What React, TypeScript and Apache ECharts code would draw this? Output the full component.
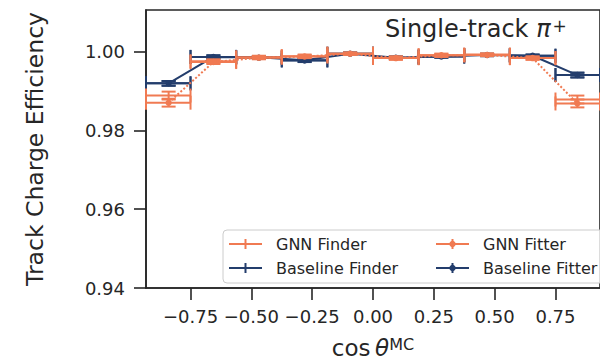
import React, { useEffect, useRef } from "react";
import * as echarts from "echarts";

// ---- data ----
const xCenters = [-0.84, -0.656, -0.469, -0.281, -0.094, 0.094, 0.281, 0.469, 0.656, 0.84];
const binLow = [-0.933, -0.75, -0.5625, -0.375, -0.1875, 0, 0.1875, 0.375, 0.5625, 0.75];
const binHigh = [-0.75, -0.5625, -0.375, -0.1875, 0, 0.1875, 0.375, 0.5625, 0.75, 0.933];

const gnnFinder = [0.9888, 0.9975, 0.9985, 0.9988, 0.9994, 0.9983, 0.999, 0.9992, 0.9983, 0.9878];
const gnnFinderErr = [0.001, 0.0005, 0.0004, 0.0004, 0.0003, 0.0004, 0.0004, 0.0003, 0.0004, 0.001];
const gnnFitter = [0.987, 0.9973, 0.9984, 0.9987, 0.9994, 0.9983, 0.999, 0.9991, 0.9983, 0.9868];
const gnnFitterErr = [0.001, 0.0005, 0.0004, 0.0004, 0.0003, 0.0004, 0.0004, 0.0003, 0.0004, 0.001];
const baseFinder = [0.9919, 0.9986, 0.9985, 0.99775, 0.9994, 0.9984, 0.9987, 0.9991, 0.9989, 0.994];
const baseFinderErr = [0.0006, 0.0004, 0.0003, 0.0004, 0.0003, 0.0003, 0.0003, 0.0003, 0.0003, 0.0006];
const baseFitter = [0.9919, 0.9986, 0.9984, 0.9977, 0.9994, 0.9984, 0.9987, 0.9991, 0.9989, 0.994];
const baseFitterErr = [0.0006, 0.0004, 0.0003, 0.0004, 0.0003, 0.0003, 0.0003, 0.0003, 0.0003, 0.0006];

const xTicks = [-0.75, -0.5, -0.25, 0, 0.25, 0.5, 0.75];
const yTicks = [0.94, 0.96, 0.98, 1.0];

const legendNames = ["GNN Finder", "GNN Fitter", "Baseline Finder", "Baseline Fitter"];

const ORANGE = "#F07A52";
const NAVY = "#233D6C";
const INK = "#262626";
const FONT = "DejaVu Sans";

function errSeries(name: string, values: number[], errs: number[], color: string, marker: boolean, z: number) {
  return {
    type: "custom",
    name,
    z,
    data: xCenters.map((x, i) => [x, values[i], binLow[i], binHigh[i], errs[i]]),
    encode: { x: [0, 2, 3], y: [1] },
    renderItem: (_params: any, api: any) => {
      const xc = api.value(0);
      const y = api.value(1);
      const xl = api.value(2);
      const xh = api.value(3);
      const e = api.value(4);
      const p = api.coord([xc, y]);
      const pl = api.coord([xl, y]);
      const ph = api.coord([xh, y]);
      const pt = api.coord([xc, y + e]);
      const pb = api.coord([xc, y - e]);
      const cap = 7;
      const st = { stroke: color, lineWidth: 2, fill: null };
      const children: any[] = [
        { type: "line", shape: { x1: pl[0], y1: p[1], x2: ph[0], y2: p[1] }, style: st },
        { type: "line", shape: { x1: pl[0], y1: p[1] - cap, x2: pl[0], y2: p[1] + cap }, style: st },
        { type: "line", shape: { x1: ph[0], y1: p[1] - cap, x2: ph[0], y2: p[1] + cap }, style: st },
        { type: "line", shape: { x1: p[0], y1: pt[1], x2: p[0], y2: pb[1] }, style: st },
        { type: "line", shape: { x1: p[0] - cap, y1: pt[1], x2: p[0] + cap, y2: pt[1] }, style: st },
        { type: "line", shape: { x1: p[0] - cap, y1: pb[1], x2: p[0] + cap, y2: pb[1] }, style: st },
      ];
      if (marker) {
        children.push({ type: "circle", shape: { cx: p[0], cy: p[1], r: 3.2 }, style: { fill: color } });
      }
      return { type: "group", children };
    },
  };
}

function lineSeries(name: string, values: number[], color: string, dash: any, z: number) {
  return {
    type: "line",
    name: name + " line",
    z,
    data: xCenters.map((x, i) => [x, values[i]]),
    symbol: "none",
    lineStyle: { color, width: 2, type: dash },
  };
}

function legendItem(x: number, y: number, color: string, marker: boolean, label: string) {
  const children: any[] = [
    { type: "line", shape: { x1: x, y1: y, x2: x + 33, y2: y }, style: { stroke: color, lineWidth: 2 } },
    { type: "line", shape: { x1: x + 16.5, y1: y - 5, x2: x + 16.5, y2: y + 5 }, style: { stroke: color, lineWidth: 2 } },
  ];
  if (marker) children.push({ type: "circle", shape: { cx: x + 16.5, cy: y, r: 3.2 }, style: { fill: color } });
  children.push({
    type: "text",
    x: x + 47,
    y,
    style: { text: label, fontSize: 16, fontFamily: FONT, fill: INK, verticalAlign: "middle", align: "left" },
  });
  return { type: "group", children };
}

export default function App() {
  const ref = useRef<HTMLDivElement>(null);
  useEffect(() => {
    if (!ref.current) return;
    const chart = echarts.init(ref.current, undefined, { renderer: "svg" });
    const fmt = (v: number) => v.toFixed(2).replace("-", "\u2212");
    chart.setOption({
      animation: false,
      backgroundColor: "#fff",
      grid: { left: 146, top: 10, right: -16, bottom: 72, show: true, borderColor: INK, borderWidth: 1.6, backgroundColor: "transparent" },
      xAxis: {
        type: "value",
        min: -0.933,
        max: 0.933,
        axisLine: { show: true, onZero: false, lineStyle: { color: INK, width: 1.6 } },
        axisTick: { show: true, length: 12, customValues: xTicks, lineStyle: { color: INK, width: 1.6 } },
        axisLabel: { customValues: xTicks, formatter: fmt, fontSize: 18, fontFamily: FONT, color: INK, margin: 19 },
        splitLine: { show: false },
        name: "{a|cos\u2009}{b|\u03b8}{c|MC}",
        nameLocation: "middle",
        nameGap: 48,
        nameTextStyle: {
          rich: {
            a: { fontSize: 23, fontFamily: FONT, color: INK },
            b: { fontSize: 23, fontFamily: FONT, color: INK, fontStyle: "italic" },
            c: { fontSize: 16, fontFamily: FONT, color: INK, verticalAlign: "top", padding: [0, 0, 6, 0] },
          },
        },
      },
      yAxis: {
        type: "value",
        min: 0.94,
        max: 1.0105,
        axisLine: { show: true, onZero: false, lineStyle: { color: INK, width: 1.6 } },
        axisTick: { show: true, length: 12, customValues: yTicks, lineStyle: { color: INK, width: 1.6 } },
        axisLabel: { customValues: yTicks, formatter: fmt, fontSize: 18, fontFamily: FONT, color: INK, margin: 21 },
        splitLine: { show: false },
        name: "Track Charge Efficiency",
        nameLocation: "middle",
        nameGap: 99,
        nameTextStyle: { fontSize: 23.5, fontFamily: FONT, color: INK },
      },
      series: [
        errSeries("Baseline Finder", baseFinder, baseFinderErr, NAVY, false, 2),
        errSeries("Baseline Fitter", baseFitter, baseFitterErr, NAVY, true, 2),
        lineSeries("Baseline Finder", baseFinder, NAVY, "solid", 3),
        errSeries("GNN Finder", gnnFinder, gnnFinderErr, ORANGE, false, 4),
        errSeries("GNN Fitter", gnnFitter, gnnFitterErr, ORANGE, true, 4),
        lineSeries("GNN Fitter", gnnFitter, ORANGE, [2, 2], 5),
      ],
      graphic: [
        {
          type: "text",
          x: 385,
          y: 17,
          style: {
            text: "{a|Single-track }{b|\u03c0}{c|+}",
            rich: {
              a: { fontSize: 24, fontFamily: FONT, fill: INK },
              b: { fontSize: 24, fontFamily: FONT, fill: INK, fontStyle: "italic" },
              c: { fontSize: 17, fontFamily: FONT, fill: INK, verticalAlign: "top", padding: [0, 0, 7, 2] },
            },
          },
          z: 10,
        },
        {
          type: "group",
          z: 10,
          children: [
            { type: "rect", shape: { x: 223, y: 230, width: 420, height: 53, r: 4 }, style: { fill: "rgba(255,255,255,0.8)", stroke: "#cccccc", lineWidth: 1 } },
            legendItem(229, 244, ORANGE, false, legendNames[0]),
            legendItem(436, 244, ORANGE, true, legendNames[1]),
            legendItem(229, 268, NAVY, false, legendNames[2]),
            legendItem(436, 268, NAVY, true, legendNames[3]),
          ],
        },
      ],
    });
    return () => chart.dispose();
  }, []);
  return <div ref={ref} style={{ position: "fixed", left: 0, top: 0, width: 600, height: 364 }} />;
}
